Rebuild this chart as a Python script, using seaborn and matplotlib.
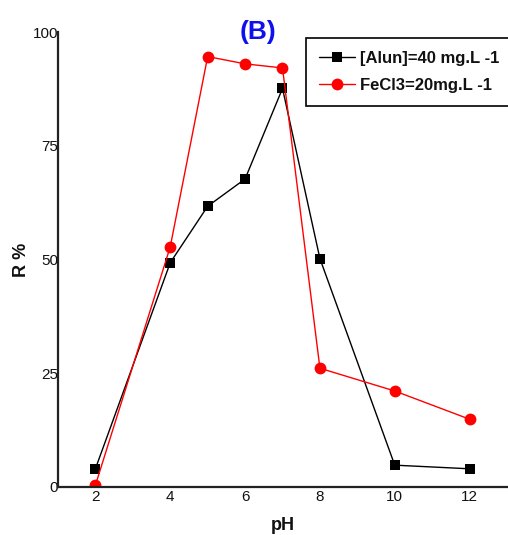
import matplotlib
matplotlib.use("Agg")
import matplotlib.pyplot as plt
import seaborn as sns
import pandas as pd
from matplotlib.ticker import MultipleLocator

ph = [2, 4, 5, 6, 7, 8, 10, 12]
alun = [4.0, 49.3, 61.7, 67.7, 87.6, 50.2, 4.8, 4.0]
fecl3 = [0.4, 52.8, 94.6, 93.0, 92.1, 26.1, 21.1, 14.9]
labels = ["[Alun]=40 mg.L -1", "FeCl3=20mg.L -1"]
xticks = [2, 4, 6, 8, 10, 12]
yticks = [0, 25, 50, 75, 100]

sns.set_style("white")
fam = ["Liberation Sans", "DejaVu Sans"]
plt.rcParams["font.family"] = fam

df = pd.DataFrame({
    "pH": ph + ph,
    "R": alun + fecl3,
    "series": [labels[0]] * len(ph) + [labels[1]] * len(ph),
})

fig = plt.figure(figsize=(5.08, 5.35), dpi=100)
ax = fig.add_axes([58 / 508, 1 - 487 / 535, 449 / 508, 455 / 535])

sns.lineplot(data=df, x="pH", y="R", hue="series", style="series",
             palette={labels[0]: "black", labels[1]: "red"},
             markers={labels[0]: "s", labels[1]: "o"}, dashes=False,
             linewidth=1, markersize=7.5, markeredgewidth=0, ax=ax)
for ln in ax.lines:
    if ln.get_marker() == "s":
        ln.set_markersize(7)
    elif ln.get_marker() == "o":
        ln.set_markersize(8.5)

ax.set_xlim(1.0, 13.0)
ax.set_ylim(0, 100)
ax.set_xticks(xticks)
ax.set_yticks(yticks)
ax.xaxis.set_minor_locator(MultipleLocator(1))
ax.yaxis.set_minor_locator(MultipleLocator(12.5))
ax.tick_params(which="major", length=0, pad=2, labelsize=11, labelcolor="#111111")
ax.tick_params(which="minor", length=3, direction="in", width=0.8, color="#333333")
ax.tick_params(axis="y", pad=0)
sns.despine(ax=ax)
for s in ["left", "bottom"]:
    ax.spines[s].set_linewidth(1.6)
    ax.spines[s].set_color("#222222")

ax.set_xlabel("pH", fontsize=13, fontweight="bold", color="#111111")
ax.set_ylabel("R %", fontsize=13, fontweight="bold", color="#111111")
ax.xaxis.set_label_coords(0.5, -0.065)
ax.yaxis.set_label_coords(-0.062, 0.5)

fig.text(258 / 508, 1 - 32 / 535, "(B)", color="#1010ee", fontsize=19,
         fontweight="bold", ha="center", va="center")

handles, _ = ax.get_legend_handles_labels()
for h in handles:
    if h.get_marker() == "s":
        h.set_markersize(7)
    elif h.get_marker() == "o":
        h.set_markersize(8.5)
leg = ax.legend(handles=handles, labels=labels, loc="upper left",
                bbox_to_anchor=(306 / 508, 1 - 38 / 535), bbox_transform=fig.transFigure,
                frameon=True, fancybox=False, edgecolor="black", framealpha=1,
                prop={"weight": "bold", "size": 12},
                handlelength=2.2, handletextpad=0.3, borderpad=0.75, labelspacing=0.75,
                borderaxespad=0)
leg.get_frame().set_linewidth(1.2)
for t in leg.get_texts():
    t.set_color("#111111")

fig.savefig("out.png", dpi=100)
